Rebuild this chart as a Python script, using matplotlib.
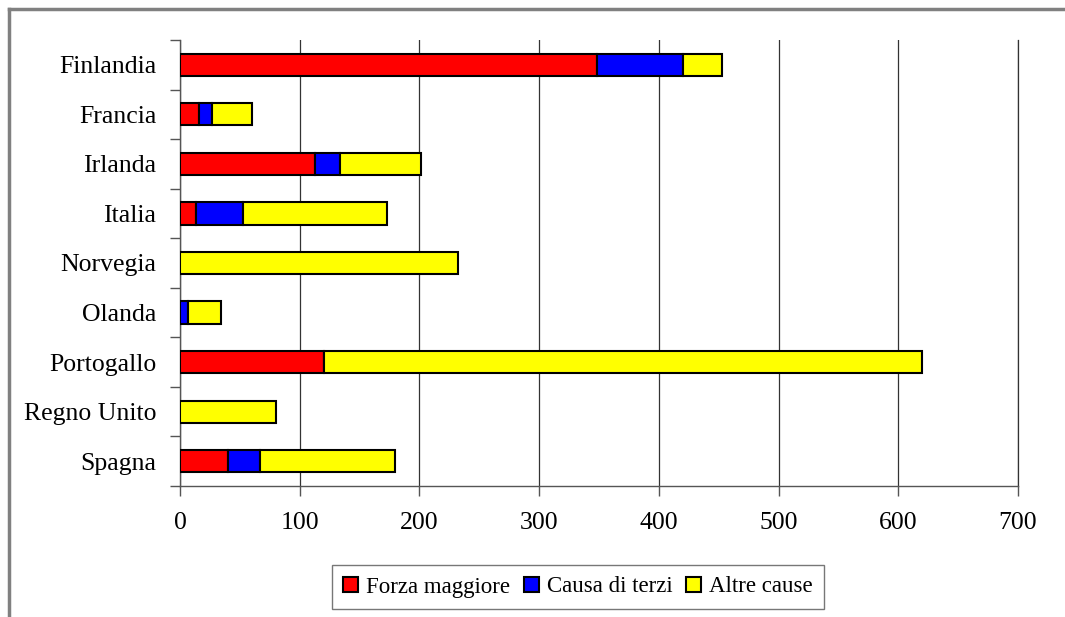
import matplotlib.pyplot as plt
from matplotlib.lines import Line2D
import numpy as np

plt.rcParams['font.family'] = ['Liberation Serif', 'DejaVu Serif']

paesi = ['Finlandia', 'Francia', 'Irlanda', 'Italia', 'Norvegia', 'Olanda',
         'Portogallo', 'Regno Unito', 'Spagna']
forza_maggiore = [348, 16, 113, 13, 0, 0, 120, 0, 40]
causa_terzi = [72, 11, 21, 40, 0, 7, 0, 0, 27]
altre_cause = [33, 33, 67, 120, 232, 27, 500, 80, 113]
serie = ['Forza maggiore', 'Causa di terzi', 'Altre cause']
colori = ['#ff0000', '#0000ff', '#ffff00']

fig = plt.figure(figsize=(10.65, 6.17), dpi=100)
ax = fig.add_axes([180 / 1065, 1 - 486 / 617, 838 / 1065, 446 / 617])

y = np.arange(len(paesi))
left = np.zeros(len(paesi))
for nome, vals, col in zip(serie, [forza_maggiore, causa_terzi, altre_cause], colori):
    vals = np.array(vals, dtype=float)
    ax.barh(y, vals, left=left, height=0.45, color=col, edgecolor='black',
            linewidth=1.5, label=nome, zorder=3)
    left += vals

ax.set_xlim(0, 700)
ax.set_ylim(len(paesi) - 0.5, -0.5)
ax.set_xticks(np.arange(0, 701, 100))
ax.set_yticks(y)
ax.set_yticklabels(paesi)
ax.set_yticks(np.arange(-0.5, len(paesi)), minor=True)
ax.tick_params(axis='y', which='major', length=0, pad=17, labelsize=18.5)
ax.tick_params(axis='y', which='minor', length=7, width=1, color='#555555', direction='out')
ax.tick_params(axis='x', length=7, width=1, color='#555555', pad=12, labelsize=18.5)
ax.xaxis.grid(True, color='#333333', linewidth=0.9, zorder=0)
ax.axvline(700, color='#333333', linewidth=0.9, clip_on=False, zorder=0)
for s in ['top', 'right']:
    ax.spines[s].set_visible(False)
for s in ['left', 'bottom']:
    ax.spines[s].set_color('#555555')
    ax.spines[s].set_linewidth(1)

# cornice esterna grigia (solo lati visibili)
fig.add_artist(Line2D([9 / 1065, 1], [1 - 9 / 617, 1 - 9 / 617], color='#808080', linewidth=2.5))
fig.add_artist(Line2D([9 / 1065, 9 / 1065], [0, 1 - 9 / 617], color='#808080', linewidth=2.5))

leg = fig.legend(loc='center', bbox_to_anchor=(578 / 1065, 1 - 587 / 617), ncol=3,
                 fontsize=16.5, frameon=True, fancybox=False, edgecolor='#555555',
                 handlelength=0.65, handleheight=0.65, handletextpad=0.35,
                 columnspacing=0.6, borderpad=0.5)
leg.get_frame().set_linewidth(1)

fig.savefig('out.png', dpi=100)
